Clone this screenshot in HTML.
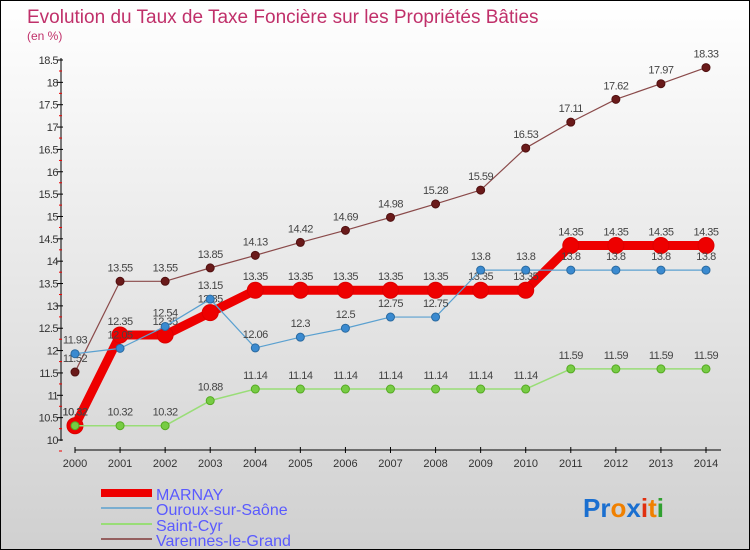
<!DOCTYPE html>
<html><head><meta charset="utf-8"><style>
body{margin:0}
#c{width:750px;height:550px;position:relative;box-sizing:border-box;border:1px solid #000;background:linear-gradient(#fff,#d0d0d0);font-family:"Liberation Sans",sans-serif;overflow:hidden}
</style></head><body>
<div id="c">
<svg id="s" width="748" height="548" xmlns="http://www.w3.org/2000/svg">
<text x="26" y="22" font-size="19" fill="#c0306a">Evolution du Taux de Taxe Foncière sur les Propriétés Bâties</text>
<text x="26" y="39" font-size="12" fill="#c0306a">(en %)</text>
<g id="axes"></g><g id="series"></g>
<g>
<line x1="100" y1="492" x2="151" y2="492" stroke="#e00" stroke-width="8"/>
<text x="155" y="499" font-size="16" fill="#5a5aff">MARNAY</text>
<line x1="100" y1="507" x2="151" y2="507" stroke="#7aaed0" stroke-width="2"/>
<text x="155" y="514" font-size="16" fill="#5a5aff">Ouroux-sur-Saône</text>
<line x1="100" y1="523" x2="151" y2="523" stroke="#99dd77" stroke-width="2"/>
<text x="155" y="530" font-size="16" fill="#5a5aff">Saint-Cyr</text>
<line x1="100" y1="538" x2="151" y2="538" stroke="#956060" stroke-width="2"/>
<text x="155" y="545" font-size="16" fill="#5a5aff">Varennes-le-Grand</text>
</g>
<text x="582" y="516" font-size="26" font-weight="bold"><tspan fill="#1a6fd0">Pr</tspan><tspan fill="#f08000">o</tspan><tspan fill="#1a6fd0">x</tspan><tspan fill="#e03010">i</tspan><tspan fill="#f08000">t</tspan><tspan fill="#30a030">i</tspan></text>
</svg></div>
<script>
const years=[2000,2001,2002,2003,2004,2005,2006,2007,2008,2009,2010,2011,2012,2013,2014];
const yTicks=[10,10.5,11,11.5,12,12.5,13,13.5,14,14.5,15,15.5,16,16.5,17,17.5,18,18.5];
const marnay=[10.32,12.35,12.35,12.85,13.35,13.35,13.35,13.35,13.35,13.35,13.35,14.35,14.35,14.35,14.35];
const ouroux=[11.93,12.05,12.54,13.15,12.06,12.3,12.5,12.75,12.75,13.8,13.8,13.8,13.8,13.8,13.8];
const saintCyr=[10.32,10.32,10.32,10.88,11.14,11.14,11.14,11.14,11.14,11.14,11.14,11.59,11.59,11.59,11.59];
const varennes=[11.52,13.55,13.55,13.85,14.13,14.42,14.69,14.98,15.28,15.59,16.53,17.11,17.62,17.97,18.33];
const NS="http://www.w3.org/2000/svg";
const X=i=>74+i*(705-74)/(years.length-1);
const Y=v=>439-(v-10)*(439-59)/8.5;
function mk(t,a,p){const e=document.createElementNS(NS,t);for(const k in a)e.setAttribute(k,a[k]);p.appendChild(e);return e;}
const ax=document.getElementById('axes'),sg=document.getElementById('series');
mk('line',{x1:60,y1:57,x2:60,y2:440,stroke:'#000'},ax);
mk('line',{x1:74,y1:449,x2:720,y2:449,stroke:'#000'},ax);
yTicks.forEach(v=>{const y=Y(v);
 mk('line',{x1:56,y1:y,x2:62,y2:y,stroke:'#000'},ax);
 mk('line',{x1:58,y1:y+11,x2:61,y2:y+11,stroke:'#e00'},ax);
 const t=mk('text',{x:57,y:y+4,'font-size':11,'text-anchor':'end',fill:'#333','letter-spacing':'-0.5'},ax);t.textContent=String(v);
 
 });
years.forEach((yr,i)=>{const x=X(i);
 mk('line',{x1:x,y1:446,x2:x,y2:452,stroke:'#000'},ax);
 const t=mk('text',{x:x,y:466,'font-size':11,'text-anchor':'middle',fill:'#333'},ax);t.textContent=yr;
 
 });
function series(vals,name,color,dot,w,r,stroke){
 const g=mk('g',{},sg);
 
 
 mk('polyline',{points:vals.map((v,i)=>X(i)+','+Y(v)).join(' '),fill:'none',stroke:color,'stroke-width':w,'stroke-linejoin':'round'},g);
 vals.forEach((v,i)=>{const c=mk('circle',{cx:X(i),cy:Y(v),r:r,fill:dot,stroke:stroke,'stroke-width':1},g);
  
  
  const t=mk('text',{x:X(i),y:Y(v)-10,'font-size':11,'text-anchor':'middle',fill:'#444','letter-spacing':'-0.5'},g);t.textContent=String(v);
  
  });
}
series(varennes,'varennes-series','#8a4a4a','#6a1a1a',1.2,4,'#501010');
series(marnay,'marnay-series','#ee0000','#ee0000',9,8,'#dd0000');
series(ouroux,'ouroux-series','#5aa0d0','#3a8ad0',1.2,4,'#2a6aa0');
series(saintCyr,'saint-cyr-series','#99dd77','#77cc44',1.5,4,'#55aa22');
</script>
</body></html>
